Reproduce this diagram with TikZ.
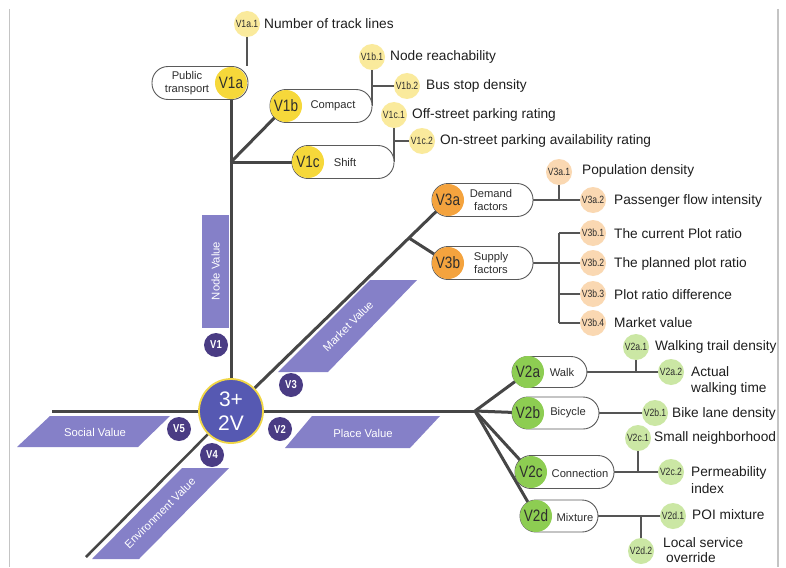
\documentclass[tikz,border=0pt]{standalone}
\usepackage{fontspec}
\setmainfont{Liberation Sans}
\newfontfamily\narrowsans[FakeStretch=0.82]{Liberation Sans}
\usetikzlibrary{calc}
\definecolor{linegray}{HTML}{464646}
\definecolor{thingray}{HTML}{555555}
\definecolor{pillgray}{HTML}{5A5A5A}
\definecolor{framegray}{HTML}{C4C4C4}
\definecolor{darktext}{HTML}{2E2E2E}
\definecolor{labeltext}{HTML}{1E1E1E}
\definecolor{bandpurple}{HTML}{8580C8}
\definecolor{badgepurple}{HTML}{4A3C84}
\definecolor{centerblue}{HTML}{5659B2}
\definecolor{centerring}{HTML}{F0D646}
\definecolor{yellowmain}{HTML}{F6D83A}
\definecolor{yellowlight}{HTML}{FAEA9C}
\definecolor{orangemain}{HTML}{F4A33E}
\definecolor{orangelight}{HTML}{FAD8B2}
\definecolor{greenmain}{HTML}{8DCD52}
\definecolor{greenlight}{HTML}{CBE7A4}
\pgfdeclarelayer{bandlayer}
\pgfdeclarelayer{linelayer}
\pgfsetlayers{bandlayer,linelayer,main}
\begin{document}
\begin{tikzpicture}[x=1pt,y=-1pt,
  mainline/.style={line width=3pt, draw=linegray},
  thinline/.style={line width=1.1pt, draw=thingray},
  framel/.style={line width=1.2pt, draw=framegray},
  pill/.style={rectangle, rounded corners=16pt, draw=pillgray, line width=0.9pt, fill=white, inner sep=0pt},
  bigc/.style={circle, minimum size=32pt, inner sep=0pt, font=\narrowsans\fontsize{16.5}{16.5}\selectfont, text=darktext},
  smallc/.style={circle, minimum size=26pt, inner sep=0pt, font=\narrowsans\fontsize{10.5}{10.5}\selectfont, text=darktext},
  lbl/.style={anchor=west, font=\fontsize{13.7}{16.5}\selectfont, text=labeltext, inner sep=0pt, align=left},
  ptext/.style={font=\fontsize{11.2}{13.5}\selectfont, text=darktext, align=center, inner sep=0pt},
  badge/.style={circle, fill=badgepurple, minimum size=24pt, inner sep=0pt, text=white, font=\narrowsans\bfseries\fontsize{11.5}{11.5}\selectfont},
  band/.style={fill=bandpurple},
  bandtext/.style={text=white, font=\fontsize{11.3}{13}\selectfont, inner sep=0pt}
]
\useasboundingbox (0,0) rectangle (786,567);
% frame
\draw[framel] (9.5,9) -- (9.5,567);
\draw[framel] (778,9) -- (778,567);

% ---------- bands ----------
\begin{pgfonlayer}{bandlayer}
\fill[white] (0,0) rectangle (786,567);
\fill[band] (202,215) rectangle (229,328);
\fill[band] (370,280) -- (417,280) -- (328,372) -- (278,372) -- cycle;
\fill[band] (312,416) -- (440,416) -- (410,448) -- (285,448) -- cycle;
\fill[band] (50,416) -- (170,416) -- (138,447) -- (17,447) -- cycle;
\fill[band] (182,468) -- (229,468) -- (139,559) -- (92,559) -- cycle;
\end{pgfonlayer}
\node[bandtext, rotate=90] (tnode) at (215.5,271) {Node Value};
\node[bandtext, rotate=45] (tmarket) at (348,326) {Market Value};
\node[bandtext] (tplace) at (363,433) {Place Value};
\node[bandtext] (tsocial) at (95,432) {Social Value};
\node[bandtext, rotate=45] (tenv) at (160,513) {Environment Value};

% badges
\node[badge] (bv1) at (216,345) {V1};
\node[badge] (bv3) at (291,385) {V3};
\node[badge] (bv2) at (280,429) {V2};
\node[badge] (bv5) at (179,429) {V5};
\node[badge] (bv4) at (212,455) {V4};

% ---------- center ----------
\node[circle, minimum size=64pt, inner sep=0pt, fill=centerblue, draw=centerring, line width=1.8pt,
      text=white, align=center, font=\fontsize{21}{24}\selectfont] (center) at (231,411) {3+\\2V};

% ---------- V1 subtree ----------
\node[pill, minimum width=96pt, minimum height=33pt] (p1a) at (200,83) {};
\node[ptext] (t1a) at (187,83) {Public\\transport};
\node[bigc, fill=yellowmain] (v1a) at (231,83) {V1a};
\node[pill, minimum width=102pt, minimum height=33pt] (p1b) at (321,106) {};
\node[ptext] (t1b) at (333,106) {Compact};
\node[bigc, fill=yellowmain] (v1b) at (286,106) {V1b};
\node[pill, minimum width=102pt, minimum height=33pt] (p1c) at (343,162) {};
\node[ptext] (t1c) at (345,162) {Shift};
\node[bigc, fill=yellowmain] (v1c) at (308,162) {V1c};
\coordinate (b1) at (231,162);

\node[smallc, fill=yellowlight] (s1a1) at (247,24) {V1a.1};
\node[lbl] (l1a1) at (264,24) {Number of track lines};
\node[smallc, fill=yellowlight] (s1b1) at (372,57) {V1b.1};
\node[lbl] (l1b1) at (390,57) {Node reachability};
\node[smallc, fill=yellowlight] (s1b2) at (407,86) {V1b.2};
\node[lbl] (l1b2) at (426,86) {Bus stop density};
\node[smallc, fill=yellowlight] (s1c1) at (394,115) {V1c.1};
\node[lbl] (l1c1) at (412,115) {Off-street parking rating};
\node[smallc, fill=yellowlight] (s1c2) at (422,141) {V1c.2};
\node[lbl] (l1c2) at (440,141) {On-street parking availability rating};

% ---------- V3 subtree ----------
\node[pill, minimum width=101pt, minimum height=33pt] (p3a) at (482.5,200) {};
\node[ptext] (t3a) at (491,200) {Demand\\factors};
\node[bigc, fill=orangemain] (v3a) at (448,200) {V3a};
\node[pill, minimum width=101pt, minimum height=33pt] (p3b) at (482.5,263) {};
\node[ptext] (t3b) at (491,263) {Supply\\factors};
\node[bigc, fill=orangemain] (v3b) at (448,263) {V3b};
\coordinate (b3) at ($(center)!0.82!(v3a)$);

\node[smallc, fill=orangelight] (s3a1) at (559,172) {V3a.1};
\node[lbl] (l3a1) at (582,171) {Population density};
\node[smallc, fill=orangelight] (s3a2) at (593,200) {V3a.2};
\node[lbl] (l3a2) at (614,201) {Passenger flow intensity};
\node[smallc, fill=orangelight] (s3b1) at (593,233) {V3b.1};
\node[lbl] (l3b1) at (614,234) {The current Plot ratio};
\node[smallc, fill=orangelight] (s3b2) at (593,263) {V3b.2};
\node[lbl] (l3b2) at (614,264) {The planned plot ratio};
\node[smallc, fill=orangelight] (s3b3) at (593,294) {V3b.3};
\node[lbl] (l3b3) at (614,295) {Plot ratio difference};
\node[smallc, fill=orangelight] (s3b4) at (593,323) {V3b.4};
\node[lbl] (l3b4) at (614,323) {Market value};

% ---------- V2 subtree ----------
\coordinate (f2) at (475,411);
\node[pill, minimum width=75pt, minimum height=31pt] (p2a) at (549.5,372) {};
\node[ptext] (t2a) at (562,372) {Walk};
\node[bigc, fill=greenmain] (v2a) at (528,372) {V2a};
\node[pill, minimum width=87pt, minimum height=32pt] (p2b) at (555.5,413) {};
\node[ptext] (t2b) at (568,413) {Bicycle};
\node[bigc, fill=greenmain] (v2b) at (528,413) {V2b};
\node[pill, minimum width=99pt, minimum height=33pt] (p2c) at (564.5,472) {};
\node[ptext] (t2c) at (580,473) {Connection};
\node[bigc, fill=greenmain] (v2c) at (531,472) {V2c};
\node[pill, minimum width=78pt, minimum height=32pt] (p2d) at (559,516) {};
\node[ptext] (t2d) at (575,517) {Mixture};
\node[bigc, fill=greenmain] (v2d) at (536,516) {V2d};

\node[smallc, fill=greenlight] (s2a1) at (636,347) {V2a.1};
\node[lbl] (l2a1) at (655,347) {Walking trail density};
\node[smallc, fill=greenlight] (s2a2) at (671,372) {V2a.2};
\node[lbl] (l2a2) at (691,381) {Actual\\walking time};
\node[smallc, fill=greenlight] (s2b1) at (655,413) {V2b.1};
\node[lbl] (l2b1) at (672,414) {Bike lane density};
\node[smallc, fill=greenlight] (s2c1) at (638,438) {V2c.1};
\node[lbl] (l2c1) at (654,438) {Small neighborhood};
\node[smallc, fill=greenlight] (s2c2) at (671,472) {V2c.2};
\node[lbl] (l2c2) at (691,480) {Permeability\\index};
\node[smallc, fill=greenlight] (s2d1) at (673,516) {V2d.1};
\node[lbl] (l2d1) at (692,515) {POI mixture};
\node[smallc, fill=greenlight] (s2d2) at (641,551) {V2d.2};
\node[lbl, font=\fontsize{13.7}{15.5}\selectfont] (l2d2) at (663,550) {Local service\\\hspace*{3pt}override};

\coordinate (w5) at (52,411);
\coordinate (w4) at (86,557);

% ---------- connectors ----------
\begin{pgfonlayer}{linelayer}
% main lines
\draw[mainline] (v1a) -- (center);
\draw[mainline] (b1) -- (v1c);
\draw[mainline] (b1) -- (v1b);
\draw[mainline] (w5) -- (center);
\draw[mainline] (center) -- (f2);
\draw[mainline] (center) -- (v3a);
\draw[mainline] (b3) -- (v3b);
\draw[mainline, line width=2.5pt] (center) -- (w4);
\draw[mainline] (f2) -- (v2a);
\draw[mainline] (f2) -- (v2b);
\draw[mainline] (f2) -- (v2c);
\draw[mainline] (f2) -- (v2d);
% V1 sub
\draw[thinline] (s1a1) -- (s1a1 |- p1a.north);
\draw[thinline] (s1b1) -- (s1b1 |- p1b.east);
\draw[thinline] (s1b1 |- s1b2) -- (s1b2);
\draw[thinline] (s1c1) -- (s1c1 |- p1c.east);
\draw[thinline] (s1c1 |- s1c2) -- (s1c2);
% V3 sub
\draw[thinline] (p3a.east) -- (s3a2);
\draw[thinline] (s3a1) -- (s3a1 |- s3a2);
\draw[thinline] (p3b.east) -- (s3b2);
\draw[thinline] (s3a1 |- s3b1) -- (s3a1 |- s3b4);
\draw[thinline] (s3a1 |- s3b1) -- (s3b1);
\draw[thinline] (s3a1 |- s3b3) -- (s3b3);
\draw[thinline] (s3a1 |- s3b4) -- (s3b4);
% V2 sub
\draw[thinline] (p2a.east) -- (s2a2);
\draw[thinline] (s2a1) -- (s2a1 |- s2a2);
\draw[thinline] (p2b.east) -- (s2b1);
\draw[thinline] (p2c.east) -- (s2c2);
\draw[thinline] (s2c1) -- (s2c1 |- s2c2);
\draw[thinline] (p2d.east) -- (s2d1);
\draw[thinline] (s2d2) -- (s2d2 |- s2d1);
\end{pgfonlayer}
\end{tikzpicture}
\end{document}
